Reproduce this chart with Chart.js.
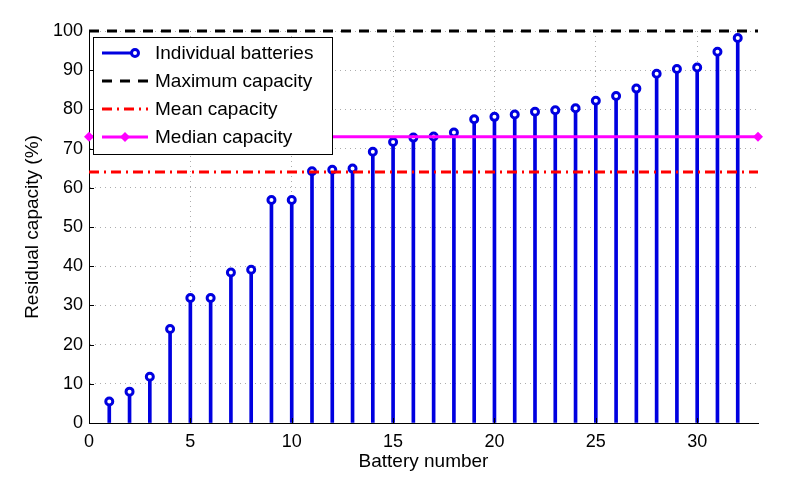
<!DOCTYPE html>
<html>
<head>
<meta charset="utf-8">
<script src="https://cdn.jsdelivr.net/npm/chart.js@4/dist/chart.umd.min.js"></script>
<style>
  html, body { margin: 0; padding: 0; background: #fff; }
</style>
</head>
<body>
<canvas id="chart" width="789" height="485"></canvas>
<script>
// data
const batteryNumbers = [1, 2, 3, 4, 5, 6, 7, 8, 9, 10, 11, 12, 13, 14, 15, 16,
  17, 18, 19, 20, 21, 22, 23, 24, 25, 26, 27, 28, 29, 30, 31, 32];
const residualCapacity = [5.5, 8.0, 11.8, 24.0, 31.9, 31.9, 38.4, 39.1, 56.9, 56.9, 64.2, 64.6, 64.9, 69.2, 71.7, 72.8,
  73.1, 74.1, 77.5, 78.1, 78.7, 79.4, 79.8, 80.3, 82.2, 83.4, 85.3, 89.1, 90.3, 90.7, 94.7, 98.2];
const maxCapacity = 100;
const meanCapacity = 64;
const medianCapacity = 73;
const xRange = [0, 33];
const xTicks = [0, 5, 10, 15, 20, 25, 30];
const yTicks = [0, 10, 20, 30, 40, 50, 60, 70, 80, 90, 100];
const legendLabels = ["Individual batteries", "Maximum capacity", "Mean capacity", "Median capacity"];
const xTitle = "Battery number";
const yTitle = "Residual capacity (%)";

const FONT = "'Liberation Sans', Arial, sans-serif";
const BLUE = "#0000e0";
const RED = "#ff0000";
const MAGENTA = "#ff00ff";

const hLine = (y) => [{ x: xRange[0], y }, { x: xRange[1], y }];

// MATLAB style inward tick marks
const innerTicks = {
  id: "innerTicks",
  afterDraw(chart) {
    const { ctx, chartArea: a, scales: { x, y } } = chart;
    ctx.save();
    ctx.strokeStyle = "#000";
    ctx.lineWidth = 1;
    ctx.beginPath();
    xTicks.forEach(v => {
      const px = Math.round(x.getPixelForValue(v)) + 0.5;
      ctx.moveTo(px, a.bottom);
      ctx.lineTo(px, a.bottom - 5);
    });
    yTicks.forEach(v => {
      const py = Math.round(y.getPixelForValue(v)) + 0.5;
      ctx.moveTo(a.left, py);
      ctx.lineTo(a.left + 5, py);
    });
    ctx.stroke();
    ctx.restore();
  }
};

// legend box inside the axes, top left
const boxLegend = {
  id: "boxLegend",
  afterDraw(chart) {
    const { ctx, chartArea: a } = chart;
    const left = a.left + 4, top = a.top + 6, w = 239, h = 117;
    ctx.save();
    ctx.fillStyle = "#fff";
    ctx.fillRect(left, top, w, h);
    ctx.strokeStyle = "#000";
    ctx.lineWidth = 1;
    ctx.strokeRect(left + 0.5, top + 0.5, w, h);

    const x0 = left + 9, x1 = left + 55;
    const rowY = i => top + 16 + i * 28;
    ctx.lineWidth = 3;

    // stems
    let y = rowY(0);
    ctx.strokeStyle = BLUE;
    ctx.beginPath(); ctx.moveTo(x0, y); ctx.lineTo(x1 - 13, y); ctx.stroke();
    ctx.lineWidth = 3;
    ctx.fillStyle = "#fff";
    ctx.beginPath(); ctx.arc(x1 - 13, y, 3.5, 0, Math.PI * 2); ctx.fill(); ctx.stroke();

    // maximum
    y = rowY(1);
    ctx.lineWidth = 3;
    ctx.strokeStyle = "#000";
    ctx.setLineDash([10, 8]);
    ctx.beginPath(); ctx.moveTo(x0, y); ctx.lineTo(x1, y); ctx.stroke();

    // mean
    y = rowY(2);
    ctx.strokeStyle = RED;
    ctx.setLineDash([10, 5, 2, 5]);
    ctx.beginPath(); ctx.moveTo(x0, y); ctx.lineTo(x1, y); ctx.stroke();
    ctx.setLineDash([]);

    // median
    y = rowY(3);
    ctx.strokeStyle = MAGENTA;
    ctx.beginPath(); ctx.moveTo(x0, y); ctx.lineTo(x1, y); ctx.stroke();
    const cx = (x0 + x1) / 2;
    ctx.fillStyle = MAGENTA;
    ctx.beginPath();
    ctx.moveTo(cx, y - 5); ctx.lineTo(cx + 5, y); ctx.lineTo(cx, y + 5); ctx.lineTo(cx - 5, y);
    ctx.closePath(); ctx.fill();

    ctx.fillStyle = "#000";
    ctx.font = "19px " + FONT;
    ctx.textBaseline = "middle";
    legendLabels.forEach((t, i) => ctx.fillText(t, left + 62, rowY(i) + 1));
    ctx.restore();
  }
};

const gridColor = c => (c.tick && c.tick.value === 0) ? "rgba(0,0,0,0)" : "rgba(0,0,0,0.32)";

new Chart(document.getElementById("chart"), {
  data: {
    datasets: [
      {
        type: "bar",
        label: legendLabels[0],
        data: batteryNumbers.map((n, i) => ({ x: n, y: residualCapacity[i] })),
        backgroundColor: BLUE,
        barThickness: 3,
        order: 5
      },
      {
        type: "line",
        label: legendLabels[0] + " markers",
        data: batteryNumbers.map((n, i) => ({ x: n, y: residualCapacity[i] })),
        showLine: false,
        pointStyle: "circle",
        pointRadius: 3.5,
        pointBorderWidth: 3,
        pointBorderColor: BLUE,
        pointBackgroundColor: "#fff",
        clip: false,
        order: 4
      },
      {
        type: "line",
        label: legendLabels[1],
        data: hLine(maxCapacity),
        borderColor: "#000",
        borderWidth: 3,
        borderDash: [10, 8],
        pointRadius: 0,
        clip: false,
        order: 3
      },
      {
        type: "line",
        label: legendLabels[2],
        data: hLine(meanCapacity),
        borderColor: RED,
        borderWidth: 3,
        borderDash: [10, 5, 2, 5],
        pointRadius: 0,
        order: 2
      },
      {
        type: "line",
        label: legendLabels[3],
        data: hLine(medianCapacity),
        borderColor: MAGENTA,
        borderWidth: 3,
        pointStyle: "rectRot",
        pointRadius: 5,
        pointBorderWidth: 0,
        pointBackgroundColor: MAGENTA,
        clip: false,
        order: 1
      }
    ]
  },
  options: {
    responsive: false,
    animation: false,
    devicePixelRatio: 1,
    layout: { padding: { top: 31, right: 31, left: 0, bottom: 0 } },
    plugins: { legend: { display: false }, tooltip: { enabled: false } },
    scales: {
      x: {
        type: "linear",
        offset: false,
        min: xRange[0],
        max: xRange[1],
        afterBuildTicks: s => { s.ticks = xTicks.map(v => ({ value: v })); },
        afterFit: s => { s.height = 62; },
        ticks: { color: "#000", font: { family: FONT, size: 18 }, padding: 8, maxRotation: 0 },
        grid: { color: gridColor, lineWidth: 1, drawTicks: false, offset: false },
        border: { color: "#000", width: 1, dash: [1, 4] },
        title: { display: true, text: xTitle, color: "#000", font: { family: FONT, size: 19 }, padding: { top: 0, bottom: 12 } }
      },
      y: {
        type: "linear",
        min: 0,
        max: 100,
        afterBuildTicks: s => { s.ticks = yTicks.map(v => ({ value: v })); },
        afterFit: s => { s.width = 89; },
        ticks: { color: "#000", font: { family: FONT, size: 18 }, padding: 6 },
        grid: { color: gridColor, lineWidth: 1, drawTicks: false },
        border: { color: "#000", width: 1, dash: [1, 4] },
        title: { display: true, text: yTitle, color: "#000", font: { family: FONT, size: 19 }, padding: { top: 21, bottom: 0 } }
      }
    }
  },
  plugins: [innerTicks, boxLegend]
});
</script>
</body>
</html>
